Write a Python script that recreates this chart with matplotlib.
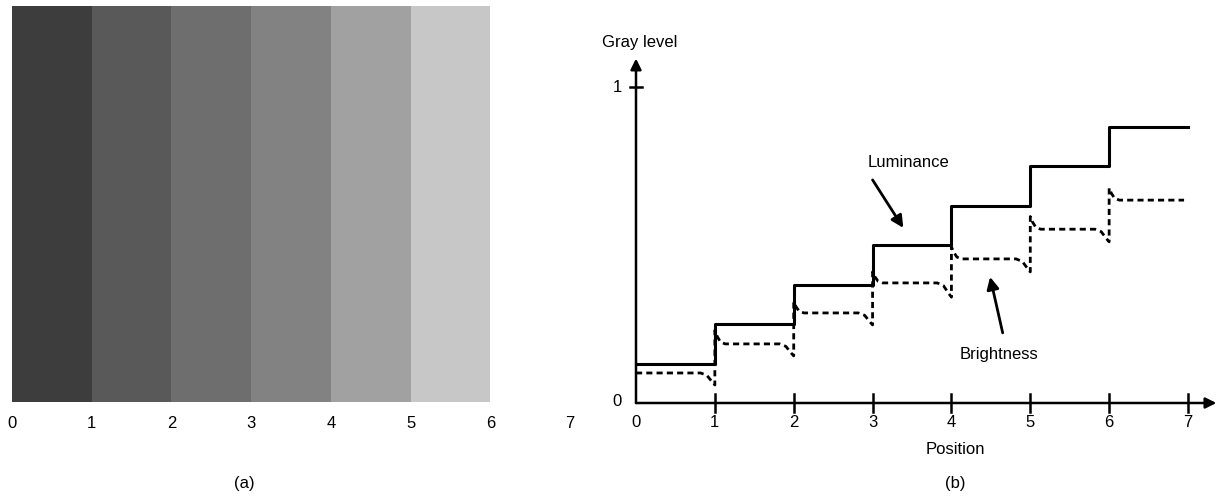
import matplotlib.pyplot as plt
from matplotlib.transforms import blended_transform_factory

plt.rcParams['font.family'] = ['Liberation Sans', 'DejaVu Sans']

# Gray bands of panel (a): one gray value per unit interval 0-1 ... 5-6
band_starts = [0, 1, 2, 3, 4, 5]
band_grays = [0.24, 0.35, 0.43, 0.51, 0.63, 0.78]
tick_labels = ['0', '1', '2', '3', '4', '5', '6', '7']

# Panel (b): luminance staircase and perceived brightness (Mach bands)
positions = [0, 1, 2, 3, 4, 5, 6]
luminance = [0.125, 0.25, 0.375, 0.5, 0.625, 0.75, 0.875]
bright_flat = [0.095, 0.187, 0.285, 0.38, 0.456, 0.55, 0.642]
bright_peak = [None, 0.23, 0.32, 0.415, 0.494, 0.59, 0.68]
bright_dip = [0.057, 0.149, 0.247, 0.335, 0.415, 0.51, None]

FIG_W, FIG_H = 1219, 500


def axes_px(left, right, top, bottom):
    return [left / FIG_W, 1 - bottom / FIG_H, (right - left) / FIG_W, (bottom - top) / FIG_H]


fig = plt.figure(figsize=(FIG_W / 100, FIG_H / 100), dpi=100)

# ---------- (a) gray bands ----------
ax_a = fig.add_axes(axes_px(12, 570, 6, 402))
for x0, g in zip(band_starts, band_grays):
    ax_a.axvspan(x0, x0 + 1, color=(g, g, g), lw=0)
ax_a.set_xlim(0, 7)
ax_a.set_ylim(0, 1)
for s in ax_a.spines.values():
    s.set_visible(False)
ax_a.set_yticks([])
ax_a.set_xticks(range(len(tick_labels)))
ax_a.set_xticklabels(tick_labels, fontsize=12)
ax_a.tick_params(axis='x', length=0, pad=10)
ax_a.text(2.92, -0.207, '(a)', transform=ax_a.transData, ha='center', va='center', fontsize=12)

# ---------- (b) luminance vs brightness ----------
ax_b = fig.add_axes(axes_px(636, 1188, 87, 403))
ax_b.set_xlim(0, 7)
ax_b.set_ylim(0, 1)
ax_b.axis('off')

arrow_kw = dict(arrowstyle='-|>', lw=1.8, color='black', mutation_scale=16, shrinkA=0, shrinkB=0)
ax_b.annotate('', xy=(7.36, 0), xytext=(0, 0), arrowprops=arrow_kw, annotation_clip=False)
ax_b.annotate('', xy=(0, 1.09), xytext=(0, 0), arrowprops=arrow_kw, annotation_clip=False)

for p in positions[1:] + [7]:
    ax_b.plot([p, p], [-0.028, 0.028], color='black', lw=1.8, clip_on=False)
    ax_b.text(p, -0.062, str(p), ha='center', va='center', fontsize=12)
ax_b.plot([-0.08, 0.08], [1, 1], color='black', lw=1.8, clip_on=False)
ax_b.text(0, -0.062, '0', ha='center', va='center', fontsize=12)
ax_b.text(-0.24, 0.005, '0', ha='center', va='center', fontsize=12)
ax_b.text(-0.24, 1.0, '1', ha='center', va='center', fontsize=12)
ax_b.text(0.05, 1.14, 'Gray level', ha='center', va='center', fontsize=12)
ax_b.text(4.05, -0.146, 'Position', ha='center', va='center', fontsize=12)
ax_b.text(4.05, -0.256, '(b)', ha='center', va='center', fontsize=12)

# luminance staircase
lum_x = positions + [7]
lum_y = luminance + [luminance[-1]]
ax_b.plot(lum_x, lum_y, drawstyle='steps-post', color='black', lw=2.2, clip_on=False)

# brightness: overshoot after each step, undershoot before the next
bx, by = [], []
for k, p in enumerate(positions):
    f = bright_flat[k]
    if bright_peak[k] is None:
        bx.append(p)
        by.append(f)
    else:
        d = bright_peak[k] - f
        bx += [p, p, p + 0.03, p + 0.07, p + 0.13]
        by += [bright_dip[k - 1], bright_peak[k], f + 0.55 * d, f + 0.15 * d, f]
    if bright_dip[k] is None:
        bx.append(p + 0.95)
        by.append(f)
    else:
        d = f - bright_dip[k]
        bx += [p + 0.82, p + 0.9, p + 0.96, p + 1.0]
        by += [f, f - 0.2 * d, f - 0.7 * d, bright_dip[k]]
ax_b.plot(bx, by, color='black', lw=2.0, dashes=(2.2, 1.5), clip_on=False)

# annotations
ann_kw = dict(arrowstyle='-|>', lw=2.0, color='black', mutation_scale=18, shrinkA=0, shrinkB=0)
ax_b.annotate('', xy=(3.39, 0.554), xytext=(3.0, 0.706), arrowprops=ann_kw)
ax_b.text(3.45, 0.76, 'Luminance', ha='center', va='center', fontsize=12)
ax_b.annotate('', xy=(4.49, 0.399), xytext=(4.65, 0.222), arrowprops=ann_kw)
ax_b.text(4.6, 0.152, 'Brightness', ha='center', va='center', fontsize=12)

fig.savefig('out.png', dpi=100)
